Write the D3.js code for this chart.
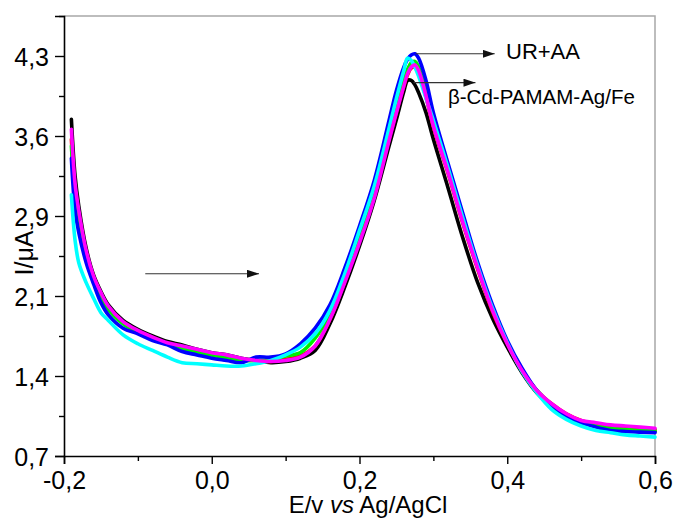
<!DOCTYPE html>
<html>
<head>
<meta charset="utf-8">
<script src="https://cdn.jsdelivr.net/npm/d3@7"></script>
<style>
  html, body { margin: 0; padding: 0; background: #fff; }
  svg { display: block; font-family: "Liberation Sans", Arial, sans-serif; }
</style>
</head>
<body>
<svg id="chart" width="674" height="519"></svg>
<script>
// Potential sweep (V vs Ag/AgCl)
const potential = [-0.19, -0.185, -0.18, -0.17, -0.16, -0.15, -0.14, -0.12, -0.10, -0.08,
  -0.06, -0.04, -0.02, 0.00, 0.02, 0.04, 0.06, 0.08, 0.10, 0.12,
  0.14, 0.16, 0.18, 0.20, 0.22, 0.24, 0.25, 0.26, 0.265, 0.27,
  0.275, 0.28, 0.29, 0.30, 0.32, 0.34, 0.36, 0.38, 0.40, 0.42,
  0.44, 0.46, 0.48, 0.50, 0.52, 0.54, 0.56, 0.58, 0.60];

// Current (µA) for each voltammogram
const currentBlack = [3.73, 3.22, 2.95, 2.57, 2.33, 2.18, 2.06, 1.92, 1.84, 1.78,
  1.73, 1.70, 1.66, 1.63, 1.61, 1.58, 1.56, 1.54, 1.55, 1.58,
  1.65, 1.89, 2.22, 2.59, 3.00, 3.49, 3.73, 3.98, 4.08, 4.08,
  4.04, 3.97, 3.79, 3.55, 3.11, 2.66, 2.26, 1.94, 1.68, 1.45,
  1.27, 1.15, 1.06, 1.00, 0.97, 0.95, 0.93, 0.92, 0.92];
const currentRed = [3.55, 3.10, 2.88, 2.53, 2.31, 2.16, 2.04, 1.90, 1.82, 1.76,
  1.71, 1.68, 1.65, 1.62, 1.60, 1.57, 1.56, 1.55, 1.57, 1.60,
  1.69, 1.93, 2.27, 2.64, 3.05, 3.55, 3.80, 4.03, 4.13, 4.19,
  4.20, 4.15, 3.93, 3.66, 3.24, 2.79, 2.38, 2.00, 1.71, 1.47,
  1.29, 1.17, 1.08, 1.02, 0.99, 0.97, 0.96, 0.95, 0.94];
const currentGreen = [3.49, 3.04, 2.82, 2.50, 2.30, 2.14, 2.02, 1.89, 1.81, 1.75,
  1.71, 1.67, 1.63, 1.61, 1.58, 1.56, 1.56, 1.57, 1.60, 1.63,
  1.76, 1.98, 2.30, 2.68, 3.09, 3.58, 3.85, 4.08, 4.18, 4.24,
  4.25, 4.20, 3.97, 3.68, 3.26, 2.81, 2.40, 2.02, 1.72, 1.47,
  1.29, 1.16, 1.07, 1.01, 0.97, 0.95, 0.94, 0.93, 0.93];
const currentBlue = [3.38, 2.91, 2.71, 2.44, 2.25, 2.08, 1.97, 1.85, 1.80, 1.74,
  1.70, 1.64, 1.61, 1.58, 1.56, 1.54, 1.59, 1.59, 1.62, 1.71,
  1.85, 2.06, 2.39, 2.77, 3.18, 3.72, 3.99, 4.20, 4.27, 4.31,
  4.32, 4.28, 4.08, 3.79, 3.33, 2.88, 2.44, 2.06, 1.74, 1.49,
  1.29, 1.16, 1.06, 1.00, 0.96, 0.93, 0.92, 0.915, 0.91];
const currentCyan = [3.05, 2.64, 2.44, 2.26, 2.12, 1.99, 1.92, 1.79, 1.71, 1.65,
  1.59, 1.54, 1.53, 1.52, 1.51, 1.51, 1.53, 1.56, 1.61, 1.68,
  1.80, 2.01, 2.34, 2.73, 3.13, 3.65, 3.92, 4.17, 4.28, 4.26,
  4.20, 4.12, 3.92, 3.72, 3.29, 2.84, 2.41, 2.03, 1.72, 1.46,
  1.27, 1.12, 1.03, 0.97, 0.93, 0.91, 0.89, 0.88, 0.87];
const currentMagenta = [3.64, 3.15, 2.91, 2.55, 2.32, 2.17, 2.05, 1.91, 1.83, 1.77,
  1.72, 1.69, 1.66, 1.63, 1.61, 1.58, 1.56, 1.55, 1.56, 1.59,
  1.69, 1.93, 2.26, 2.62, 3.02, 3.54, 3.79, 4.03, 4.14, 4.20,
  4.22, 4.17, 3.94, 3.67, 3.25, 2.80, 2.39, 2.01, 1.71, 1.47,
  1.29, 1.17, 1.08, 1.02, 1.00, 0.98, 0.97, 0.96, 0.95];

const seriesColors = ["#000000", "#ff0000", "#00ee00", "#0000ff", "#00ffff", "#ff00ff"];
const seriesValues = [currentBlack, currentRed, currentGreen, currentBlue, currentCyan, currentMagenta];

// Axis ticks
const xMajorTicks = [-0.2, 0.0, 0.2, 0.4, 0.6];
const xMinorTicks = [-0.1, 0.1, 0.3, 0.5];
const yMajorTicks = [0.70, 1.42, 2.14, 2.86, 3.58, 4.30];
const yMinorTicks = [1.06, 1.78, 2.50, 3.22, 3.94, 4.66];

const svg = d3.select("#chart");
const plotLeft = 64, plotRight = 655, plotTop = 16, plotBottom = 456;

const x = d3.scaleLinear().domain([-0.2, 0.6]).range([plotLeft, plotRight]);
const y = d3.scaleLinear().domain([0.7, 4.66]).range([plotBottom, plotTop]);

const commaFmt = v => d3.format(".1f")(v).replace(".", ",").replace("−", "-");

// Frame: top and right edges in grey
svg.append("path")
  .attr("d", `M${plotLeft},${plotTop}H${plotRight}V${plotBottom}`)
  .attr("fill", "none").attr("stroke", "#a8a8a8").attr("stroke-width", 1.5);

// Voltammograms
const line = d3.line()
  .x(d => x(d[0]))
  .y(d => y(d[1]))
  .curve(d3.curveCatmullRom.alpha(0.5));

seriesValues.forEach((vals, i) => {
  svg.append("path")
    .datum(potential.map((p, k) => [p, vals[k]]))
    .attr("d", line)
    .attr("fill", "none")
    .attr("stroke", seriesColors[i])
    .attr("stroke-width", 3.6)
    .attr("stroke-linejoin", "round")
    .attr("stroke-linecap", "round");
});

// Axes
svg.append("g").attr("transform", `translate(0,${plotBottom})`)
  .call(d3.axisBottom(x).tickValues(xMajorTicks).tickFormat(commaFmt).tickSize(8).tickPadding(7));
svg.append("g").attr("transform", `translate(0,${plotBottom})`)
  .call(d3.axisBottom(x).tickValues(xMinorTicks).tickFormat("").tickSize(5))
  .select(".domain").remove();

const yAxis = svg.append("g").attr("transform", `translate(${plotLeft},0)`)
  .call(d3.axisLeft(y).tickValues(yMajorTicks).tickFormat(commaFmt).tickSize(9).tickPadding(6));
svg.append("g").attr("transform", `translate(${plotLeft},0)`)
  .call(d3.axisLeft(y).tickValues(yMinorTicks).tickFormat("").tickSize(5))
  .select(".domain").remove();

svg.selectAll(".domain").attr("stroke", "#000").attr("stroke-width", 1.6);
svg.selectAll(".tick line").attr("stroke", "#000").attr("stroke-width", 1.4);
svg.selectAll(".tick text")
  .attr("font-family", "'Liberation Sans', Arial, sans-serif")
  .attr("font-size", 25).attr("fill", "#000");
yAxis.selectAll(".tick text").attr("dy", "0.36em");

// Axis titles
svg.append("text")
  .attr("x", 368).attr("y", 513)
  .attr("text-anchor", "middle")
  .attr("font-size", 24)
  .call(t => {
    t.append("tspan").text("E/v ");
    t.append("tspan").attr("font-style", "italic").text("vs");
    t.append("tspan").text(" Ag/AgCl");
  });

svg.append("text")
  .attr("transform", "translate(33,253) rotate(-90)")
  .attr("text-anchor", "middle")
  .attr("font-size", 25)
  .text("I/μA");

// Annotation arrows
const defs = svg.append("defs");
defs.append("marker")
  .attr("id", "arrowHead")
  .attr("viewBox", "0 0 12 8")
  .attr("refX", 12).attr("refY", 4)
  .attr("markerWidth", 12).attr("markerHeight", 8)
  .attr("markerUnits", "userSpaceOnUse")
  .attr("orient", "auto")
  .append("path").attr("d", "M0,0L12,4L0,8Z").attr("fill", "#111");

const arrows = [
  { x1: -0.09, x2: 0.064, yv: 2.34 },
  { x1: 0.276, x2: 0.383, yv: 4.32 },
  { x1: 0.273, x2: 0.357, yv: 4.06 }
];
arrows.forEach(a => {
  svg.append("line")
    .attr("x1", x(a.x1)).attr("x2", x(a.x2))
    .attr("y1", y(a.yv)).attr("y2", y(a.yv))
    .attr("stroke", "#333").attr("stroke-width", 1.1)
    .attr("marker-end", "url(#arrowHead)");
});

svg.append("text")
  .attr("x", 506).attr("y", 59)
  .attr("font-size", 22)
  .text("UR+AA");

svg.append("text")
  .attr("x", 448).attr("y", 104)
  .attr("font-size", 20.5)
  .text("β-Cd-PAMAM-Ag/Fe");
</script>
</body>
</html>
